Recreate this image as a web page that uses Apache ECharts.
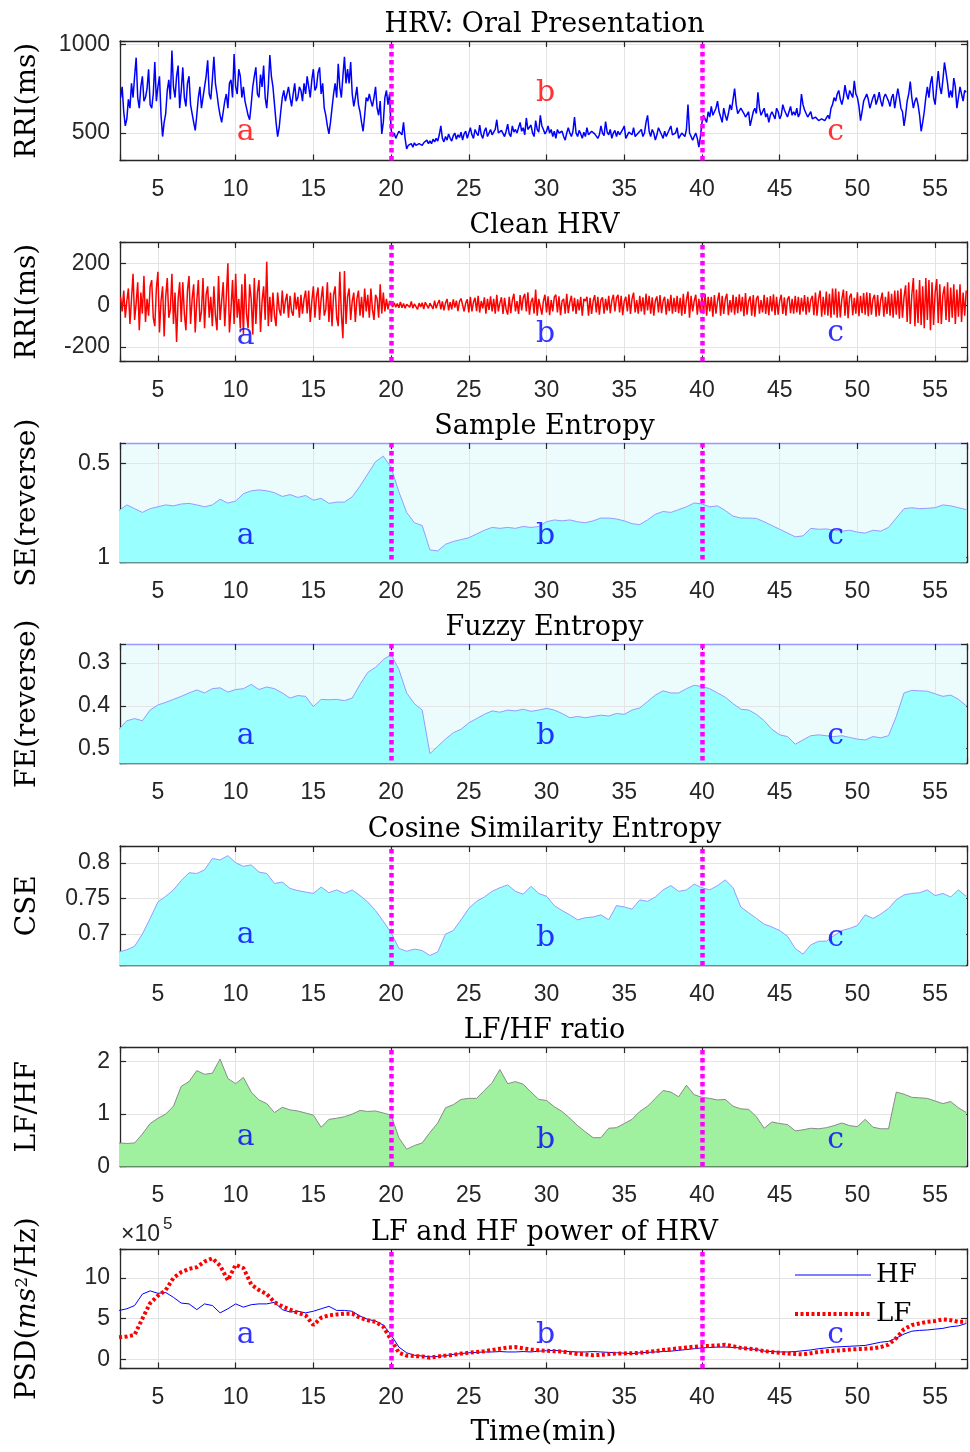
<!DOCTYPE html>
<html>
<head>
<meta charset="utf-8">
<script src="https://cdn.jsdelivr.net/npm/echarts@6/dist/echarts.min.js"></script>
<style>html,body{margin:0;padding:0;background:#fff}#c{width:970px;height:1452px}</style>
</head>
<body>
<div id="c"></div>
<script>
// ---------- DATA ----------
// raw RRI traces sampled every 0.1 min from 2.6 min
const rawT0 = 2.6, rawDT = 0.1;
const rriRaw = [
700,760,620,540,580,690,640,780,700,820,925,700,640,760,820,680,700,750,860,660,
640,720,900,680,760,820,600,480,560,610,740,800,690,965,760,700,820,880,640,740,
870,700,650,780,820,660,610,560,515,600,700,760,640,700,760,820,910,720,690,800,
930,780,720,650,600,560,620,680,720,640,780,800,700,945,760,720,860,820,700,760,
680,640,600,575,660,760,820,870,720,700,830,760,880,700,640,760,940,820,760,660,
560,480,530,620,700,740,680,690,760,700,650,720,780,680,700,760,740,680,780,720,
820,760,700,800,860,740,760,840,870,720,780,640,600,540,495,560,640,720,780,700,
890,760,700,820,930,780,860,780,900,720,650,700,760,660,620,560,510,600,700,680,
720,680,650,700,760,640,600,680,495,560,700,740,660,720,520,480,500,470,490,510,
520,490,560,470,410,430,425,440,420,445,430,425,440,450,430,445,435,460,440,455,
440,465,450,470,455,490,540,470,450,480,460,495,470,455,485,500,465,490,475,505,
460,495,510,470,480,530,490,470,520,500,485,545,490,470,510,530,480,500,520,490,
480,520,575,500,490,515,520,480,510,550,495,480,540,505,520,500,490,560,510,530,
490,585,520,510,545,500,480,570,520,505,600,540,520,495,510,540,500,520,480,510,
470,520,500,490,510,480,460,500,530,500,480,510,590,500,480,515,495,470,505,480,
530,490,480,510,520,495,500,470,490,540,500,485,565,505,490,520,470,500,515,480,
510,490,480,520,540,470,460,505,495,490,530,480,470,500,510,520,480,500,560,600,
510,480,520,500,460,490,530,510,490,470,510,480,470,520,540,490,480,500,530,470,
470,500,510,480,520,660,500,490,460,480,500,470,420,480,560,600,580,560,620,590,
650,600,610,640,680,620,590,560,640,600,570,610,660,630,620,750,660,610,600,640,
640,610,590,600,620,540,580,620,640,610,730,640,600,620,640,590,610,560,600,620,
600,580,640,620,580,600,660,630,610,590,620,650,600,620,600,640,590,610,720,660,
630,610,590,600,620,580,570,590,600,570,560,580,590,570,560,600,580,640,660,700,
680,720,740,690,660,700,770,720,690,740,720,700,795,720,700,650,570,620,680,700,
720,690,640,670,700,720,660,690,730,680,650,700,720,700,680,650,700,720,640,700,
750,700,640,620,540,600,680,720,790,700,640,680,700,660,600,510,560,620,700,760,
700,780,820,700,660,760,850,760,720,800,898,840,780,700,740,700,810,760,640,700,
760,720,680,740,730];
const rriClean = [
40,-30,70,-60,20,80,-90,30,150,-70,10,110,-120,60,-40,140,-80,30,-50,90,
120,-60,-100,80,160,-130,20,90,-150,40,130,-60,-20,150,-90,60,-176,30,110,-80,
110,-40,-120,70,140,-90,30,100,-130,20,120,-80,-30,130,-110,50,90,-60,40,-100,
90,-50,-120,140,-70,20,110,-100,40,200,-130,-20,120,-90,150,-60,30,-110,100,-140,
150,-40,-110,100,30,-140,130,-90,60,120,-128,20,90,-70,208,-100,40,-80,60,-50,
-100,60,-20,-50,70,-40,20,55,-60,45,-30,-50,60,-20,40,-60,50,-40,30,70,
-40,70,-80,20,90,-60,40,85,-70,30,90,-50,-20,110,-80,60,-100,50,90,-60,
-100,160,-40,-158,163,-90,40,80,-70,20,60,-80,30,70,-50,40,-60,80,-30,50,
-60,80,-20,-70,50,30,-60,100,-40,60,-30,30,-20,20,10,-8,12,-10,8,-12,
15,-12,8,-15,5,12,-10,18,-14,6,15,-20,10,-8,12,-18,14,20,-15,10,
12,-18,22,-15,8,25,-20,18,-25,10,30,-25,15,-20,28,-12,22,-28,18,32,
35,-30,10,28,-35,40,-30,15,35,-28,45,-35,20,-15,38,-40,30,-22,42,-30,
30,-40,50,-30,10,38,-42,35,-20,-45,40,-38,25,55,-30,20,-42,48,-25,35,
55,-30,62,-45,15,35,-40,75,-50,30,38,-45,20,50,-35,42,-48,25,-30,40,
50,-35,42,-48,20,30,-40,55,-38,15,45,-30,35,-42,28,-25,40,-50,30,20,
40,-50,35,-42,20,48,-35,40,-45,25,38,-40,30,-25,45,-38,22,50,-30,35,
50,-35,45,-48,20,40,-30,52,-42,30,60,-35,25,-40,45,-30,38,-45,55,-25,
45,-40,38,-50,22,42,-35,48,-38,20,40,-45,30,-28,50,-40,35,-32,45,-38,
35,-50,55,-42,25,65,-60,45,-30,20,50,-45,30,-35,48,-40,55,-50,40,-30,
40,-55,48,-40,20,60,-50,45,-42,30,55,-48,25,-35,50,-45,40,-38,52,-30,
40,-52,58,-45,20,42,-50,48,-55,30,45,-40,25,-35,50,-42,38,-48,44,-30,
52,-48,40,-45,22,50,-42,38,-50,28,42,-38,30,-40,45,-35,40,-45,35,-30,
48,-45,40,-35,25,45,-48,60,-50,30,70,-55,40,-45,65,-50,55,-60,80,-45,
80,-60,65,-58,30,75,-50,68,-62,40,55,-48,35,-40,62,-52,45,-38,58,-45,
62,-52,58,-45,30,50,-55,48,-50,25,60,-55,40,-42,65,-50,55,-60,70,-45,
70,-65,80,-60,40,95,-80,110,-90,50,130,-100,75,-85,120,-95,90,-110,130,-70,
120,-120,110,-95,60,125,-85,100,-90,50,90,-70,110,-80,85,-60,100,-90,75,-55,
100,-80,60,-50,70];

// windowed features sampled every 0.5 min from 2.5 min
const featT0 = 2.5, featDT = 0.5;
const sampleEntropy = [
0.75,0.72,0.74,0.76,0.74,0.73,0.72,0.725,0.715,0.712,
0.72,0.73,0.72,0.69,0.71,0.70,0.66,0.645,0.64,0.645,
0.655,0.675,0.665,0.68,0.67,0.695,0.685,0.712,0.705,0.705,
0.677,0.62,0.555,0.49,0.46,0.52,0.65,0.76,0.815,0.83,
0.96,0.965,0.93,0.915,0.905,0.895,0.875,0.855,0.84,0.845,
0.84,0.845,0.835,0.84,0.835,0.81,0.8,0.805,0.8,0.81,
0.815,0.805,0.79,0.79,0.795,0.805,0.82,0.825,0.8,0.77,
0.755,0.76,0.745,0.73,0.71,0.715,0.73,0.725,0.75,0.78,
0.79,0.79,0.792,0.81,0.83,0.85,0.87,0.89,0.885,0.845,
0.85,0.848,0.855,0.86,0.855,0.865,0.87,0.855,0.86,0.84,
0.79,0.74,0.735,0.74,0.738,0.735,0.72,0.725,0.735,0.745];
const fuzzyEntropy = [
0.455,0.435,0.43,0.435,0.41,0.398,0.392,0.385,0.378,0.37,
0.363,0.37,0.36,0.358,0.368,0.362,0.36,0.35,0.362,0.356,
0.36,0.37,0.382,0.376,0.378,0.402,0.385,0.386,0.385,0.388,
0.382,0.35,0.322,0.31,0.292,0.28,0.315,0.37,0.395,0.41,
0.512,0.495,0.478,0.463,0.455,0.44,0.43,0.42,0.412,0.415,
0.41,0.412,0.408,0.413,0.41,0.406,0.41,0.418,0.428,0.425,
0.428,0.425,0.422,0.424,0.418,0.42,0.41,0.405,0.39,0.375,
0.365,0.37,0.37,0.36,0.352,0.355,0.36,0.37,0.38,0.395,
0.408,0.41,0.42,0.435,0.455,0.468,0.472,0.49,0.48,0.47,
0.468,0.47,0.472,0.47,0.474,0.478,0.48,0.472,0.475,0.47,
0.425,0.37,0.364,0.365,0.366,0.372,0.378,0.375,0.385,0.4];
const cosineEntropy = [
0.675,0.678,0.683,0.70,0.722,0.745,0.753,0.762,0.775,0.786,
0.785,0.79,0.806,0.804,0.81,0.8,0.795,0.797,0.787,0.785,
0.771,0.773,0.764,0.761,0.759,0.757,0.766,0.758,0.762,0.757,
0.762,0.754,0.745,0.733,0.718,0.702,0.68,0.676,0.679,0.677,
0.670,0.675,0.70,0.705,0.72,0.736,0.746,0.752,0.76,0.765,
0.769,0.76,0.756,0.767,0.757,0.753,0.74,0.733,0.727,0.72,
0.723,0.724,0.727,0.72,0.74,0.738,0.735,0.748,0.746,0.752,
0.762,0.768,0.76,0.762,0.77,0.765,0.762,0.768,0.776,0.765,
0.738,0.73,0.722,0.714,0.71,0.705,0.697,0.68,0.672,0.685,
0.69,0.69,0.698,0.705,0.708,0.712,0.727,0.722,0.728,0.736,
0.748,0.755,0.757,0.758,0.762,0.754,0.757,0.752,0.762,0.753];
const lfhfRatio = [
0.45,0.44,0.45,0.62,0.82,0.92,1.0,1.15,1.53,1.62,
1.83,1.76,1.78,2.05,1.68,1.58,1.70,1.42,1.27,1.2,
1.03,1.13,1.08,1.06,1.02,0.98,0.75,0.9,0.92,0.95,
1.0,1.07,1.05,1.06,1.02,0.98,0.55,0.33,0.4,0.45,
0.65,0.83,1.12,1.18,1.28,1.3,1.3,1.45,1.6,1.85,
1.58,1.62,1.57,1.42,1.28,1.26,1.14,1.05,0.92,0.78,
0.66,0.55,0.55,0.73,0.74,0.82,0.9,1.05,1.15,1.3,
1.45,1.42,1.33,1.55,1.37,1.32,1.3,1.27,1.28,1.15,
1.1,1.09,0.95,0.73,0.85,0.82,0.8,0.68,0.7,0.73,
0.72,0.74,0.78,0.83,0.78,0.76,0.9,0.75,0.72,0.72,
1.42,1.38,1.32,1.31,1.3,1.25,1.2,1.24,1.12,1.03];
// power in units of 1e5 ms^2/Hz
const hfPower = [
6.0,6.2,6.6,8.0,8.4,8.1,8.2,7.6,6.9,6.8,
6.1,6.8,6.6,5.7,6.2,6.8,6.4,6.7,6.8,6.8,
7.0,6.1,5.8,5.9,5.7,5.9,6.2,6.5,6.0,6.0,
5.9,5.3,4.9,4.7,4.2,3.0,1.5,0.8,0.5,0.4,
0.3,0.35,0.45,0.6,0.7,0.8,0.85,0.9,0.9,0.95,
0.9,0.9,0.95,0.9,1.0,1.05,1.1,1.0,0.95,0.9,
0.9,0.95,0.9,0.85,0.8,0.75,0.7,0.8,0.85,0.9,
0.95,1.0,1.1,1.2,1.3,1.4,1.45,1.5,1.5,1.45,
1.4,1.3,1.2,1.0,0.95,0.9,0.9,0.95,1.05,1.15,
1.3,1.4,1.5,1.55,1.6,1.65,1.7,1.9,2.1,2.2,
2.6,3.1,3.45,3.55,3.6,3.7,3.8,4.0,4.1,4.4];
const lfPower = [
2.7,2.8,3.0,5.0,6.9,7.8,8.5,10.0,10.7,11.1,
11.3,12.0,12.4,11.5,9.7,11.6,11.2,9.2,8.5,8.0,
7.0,6.5,6.1,5.7,5.4,4.2,5.1,5.4,5.5,5.6,
5.6,5.1,4.8,4.6,4.0,2.4,0.8,0.45,0.4,0.35,
0.2,0.35,0.45,0.55,0.7,0.8,0.9,1.0,1.15,1.3,
1.45,1.5,1.35,1.2,1.1,1.05,1.0,0.95,0.8,0.65,
0.6,0.5,0.55,0.65,0.7,0.72,0.75,0.8,0.9,1.0,
1.15,1.25,1.35,1.45,1.55,1.6,1.65,1.7,1.8,1.6,
1.4,1.3,1.2,1.0,0.9,0.8,0.72,0.65,0.6,0.75,
0.9,1.0,1.05,1.1,1.2,1.25,1.3,1.35,1.5,1.8,
2.6,3.7,4.2,4.4,4.6,4.7,4.9,4.8,4.6,4.6];

const panelTitles = ['HRV: Oral Presentation','Clean HRV','Sample Entropy','Fuzzy Entropy','Cosine Similarity Entropy','LF/HF ratio','LF and HF power of HRV'];
const yAxisNames = ['RRI(ms)','RRI(ms)','SE(reverse)','FE(reverse)','CSE','LF/HF','{n|PSD(}{i|ms}{s|2}{n|/Hz)}'];
const yMins  = [345, -269, 0.39, 0.2555, 0.656, 0, -1.13];
const yMaxs  = [1019, 302, 1.027, 0.535, 0.8235, 2.28, 13.54];
const ySteps = [500, 200, 0.5, 0.1, 0.05, 1, 5];
const xMin = 2.56, xMax = 57.05, xStep = 5;
const phaseBounds = [20, 40];
const phaseLetters = ['a','b','c'];
const phaseLetterT = [10.64, 29.94, 48.6];
const phaseLetterY = [
  [505, 725, 505],
  [-149, -139, -135],
  [0.888, 0.888, 0.888],
  [0.4716, 0.4716, 0.4716],
  [0.698, 0.694, 0.694],
  [0.556, 0.498, 0.498],
  [2.94, 2.94, 2.94]
];
const legendNames = ['HF','LF'];

// ---------- LAYOUT / STYLE ----------
const SERIF = "'DejaVu Serif', serif";
const SANS = "'Liberation Sans', Arial, sans-serif";
const AX = '#262626';
const GRIDC = '#e4e4e4';
const gridTops = [41, 242, 443, 644, 846, 1047, 1249];
const gridH = 119.5;

function pairs(t0, dt, vals){ return vals.map((v,i)=>[+(t0+i*dt).toFixed(3), v]); }
function fmt(step){ return function(v){ const k=v/step; if (Math.abs(k-Math.round(k))>1e-6) return ''; return String(parseFloat(v.toFixed(6))); }; }

const grids=[], xAxes=[], yAxes=[], series=[], titles=[];
for (let i=0;i<7;i++){
  const inv = (i===2||i===3);
  const g = {left:120, right:1, top:gridTops[i], height:gridH};
  if (inv){ g.show=true; g.backgroundColor='#ecfcfc'; g.borderWidth=0; }
  grids.push(g);
  const topColor = inv ? '#9999ff' : AX;
  const xb = {gridIndex:i, type:'value', min:xMin, max:xMax, minInterval:xStep, maxInterval:xStep, position:'bottom',
    axisLine:{show:true, onZero:false, lineStyle:{color:AX, width:1.3}},
    axisTick:{show:true, inside:true, length:6, lineStyle:{color:AX, width:1.2}},
    axisLabel:{show:true, margin:18, fontFamily:SANS, fontSize:23, color:AX, formatter:fmt(xStep)},
    splitLine:{show:true, lineStyle:{color:GRIDC, width:1}}};
  if (i===6){ xb.name='Time(min)'; xb.nameLocation='middle'; xb.nameGap=50; xb.nameTextStyle={fontFamily:SERIF, fontSize:28, color:'#000'}; }
  xAxes.push(xb);
  xAxes.push({gridIndex:i, type:'value', min:xMin, max:xMax, minInterval:xStep, maxInterval:xStep, position:'top',
    axisLine:{show:true, onZero:false, lineStyle:{color:topColor, width:1.3}},
    axisTick:{show:true, inside:true, length:6, lineStyle:{color:AX, width:1.2}},
    axisLabel:{show:false}, splitLine:{show:false}});
  yAxes.push({gridIndex:i, type:'value', min:yMins[i], max:yMaxs[i], inverse:inv, minInterval:ySteps[i], maxInterval:ySteps[i], position:'left',
    axisLine:{show:true, onZero:false, lineStyle:{color:AX, width:1.3}},
    axisTick:{show:true, inside:true, length:6, lineStyle:{color:AX, width:1.2}},
    axisLabel:{show:true, margin:10, fontFamily:SANS, fontSize:23, color:AX, formatter:fmt(ySteps[i])},
    splitLine:{show:true, lineStyle:{color:GRIDC, width:1}},
    name:yAxisNames[i], nameLocation:'middle', nameGap:78,
    nameTextStyle:{fontFamily:SERIF, fontSize:28, color:'#000',
      rich:{n:{fontFamily:SERIF, fontSize:28, color:'#000'}, i:{fontFamily:SERIF, fontSize:28, fontStyle:'italic', color:'#000'}, s:{fontFamily:SERIF, fontSize:17, color:'#000', verticalAlign:'top'}}}});
  yAxes.push({gridIndex:i, type:'value', min:yMins[i], max:yMaxs[i], inverse:inv, minInterval:ySteps[i], maxInterval:ySteps[i], position:'right',
    axisLine:{show:true, onZero:false, lineStyle:{color:AX, width:1.3}},
    axisTick:{show:true, inside:true, length:6, lineStyle:{color:AX, width:1.2}},
    axisLabel:{show:false}, splitLine:{show:false}});
  titles.push({text:panelTitles[i], left:544.5, top:gridTops[i]-30, textAlign:'center', padding:0,
    textStyle:{fontFamily:SERIF, fontWeight:'normal', fontSize:27, color:'#000'}});
}

const markLine = {silent:true, symbol:['none','none'], label:{show:false}, emphasis:{disabled:true},
  lineStyle:{color:'#ff00ff', width:4.5, type:[4.5,3.5], opacity:1}, data: phaseBounds.map(v=>({xAxis:v})), z:5};

function lineSeries(i, data, extra){
  return Object.assign({type:'line', xAxisIndex:2*i, yAxisIndex:2*i, data:data, showSymbol:false, symbol:'none',
    animation:false, emphasis:{disabled:true}, z:2}, extra);
}
series.push(lineSeries(0, pairs(rawT0, rawDT, rriRaw), {lineStyle:{color:'#0000ff', width:1.5}, markLine}));
series.push(lineSeries(1, pairs(rawT0, rawDT, rriClean), {lineStyle:{color:'#ff0000', width:1.5}, markLine}));
series.push(lineSeries(2, pairs(featT0, featDT, sampleEntropy), {lineStyle:{color:'#9999ff', width:1}, areaStyle:{color:'#99ffff', opacity:1, origin:'end'}, markLine}));
series.push(lineSeries(3, pairs(featT0, featDT, fuzzyEntropy), {lineStyle:{color:'#9999ff', width:1}, areaStyle:{color:'#99ffff', opacity:1, origin:'end'}, markLine}));
series.push(lineSeries(4, pairs(featT0, featDT, cosineEntropy), {lineStyle:{color:'#9999ff', width:1}, areaStyle:{color:'#99ffff', opacity:1, origin:'start'}, markLine}));
series.push(lineSeries(5, pairs(featT0, featDT, lfhfRatio), {lineStyle:{color:'#8a8a8a', width:1}, areaStyle:{color:'#9ff09f', opacity:1, origin:'start'}, markLine}));
series.push(lineSeries(6, pairs(featT0, featDT, hfPower), {name:legendNames[0], lineStyle:{color:'#0000ff', width:1}, itemStyle:{color:'#0000ff'}, markLine}));
series.push(lineSeries(6, pairs(featT0, featDT, lfPower), {name:legendNames[1], lineStyle:{color:'#ff0000', width:4, type:[3,2.5]}, itemStyle:{color:'#ff0000'}, z:3}));

for (let i=0;i<7;i++){
  series.push({type:'scatter', xAxisIndex:2*i, yAxisIndex:2*i, symbolSize:1, silent:true, animation:false, z:10,
    itemStyle:{color:'rgba(0,0,0,0)'},
    data: phaseLetters.map((L,k)=>[phaseLetterT[k], phaseLetterY[i][k], L]),
    label:{show:true, position:'inside', formatter:p=>p.value[2], fontFamily:SERIF, fontSize:30,
      color: i===0 ? '#ff0000' : '#0000ff'}});
}

const option = {
  animation:false,
  backgroundColor:'#ffffff',
  title: titles,
  grid: grids,
  xAxis: xAxes,
  yAxis: yAxes,
  legend: {data:[{name:legendNames[0], lineStyle:{width:1.2}}, {name:legendNames[1], lineStyle:{width:4, type:[3,2.5]}}],
    orient:'vertical', left:788, top:1257, itemWidth:76, itemHeight:24, itemGap:13,
    itemStyle:{color:'rgba(0,0,0,0)', borderColor:'rgba(0,0,0,0)', borderWidth:0, opacity:0},
    textStyle:{fontFamily:SERIF, fontSize:26, color:'#000'}, selectedMode:false},
  graphic: [
    {type:'text', left:121, top:1223, style:{text:'\u00d710', font:'23px "Liberation Sans"', fill:AX}},
    {type:'text', left:163, top:1216, style:{text:'5', font:'17px "Liberation Sans"', fill:AX}}
  ],
  series: series
};
const chart = echarts.init(document.getElementById('c'), null, {renderer:'canvas'});
chart.setOption(option);
</script>
</body>
</html>
